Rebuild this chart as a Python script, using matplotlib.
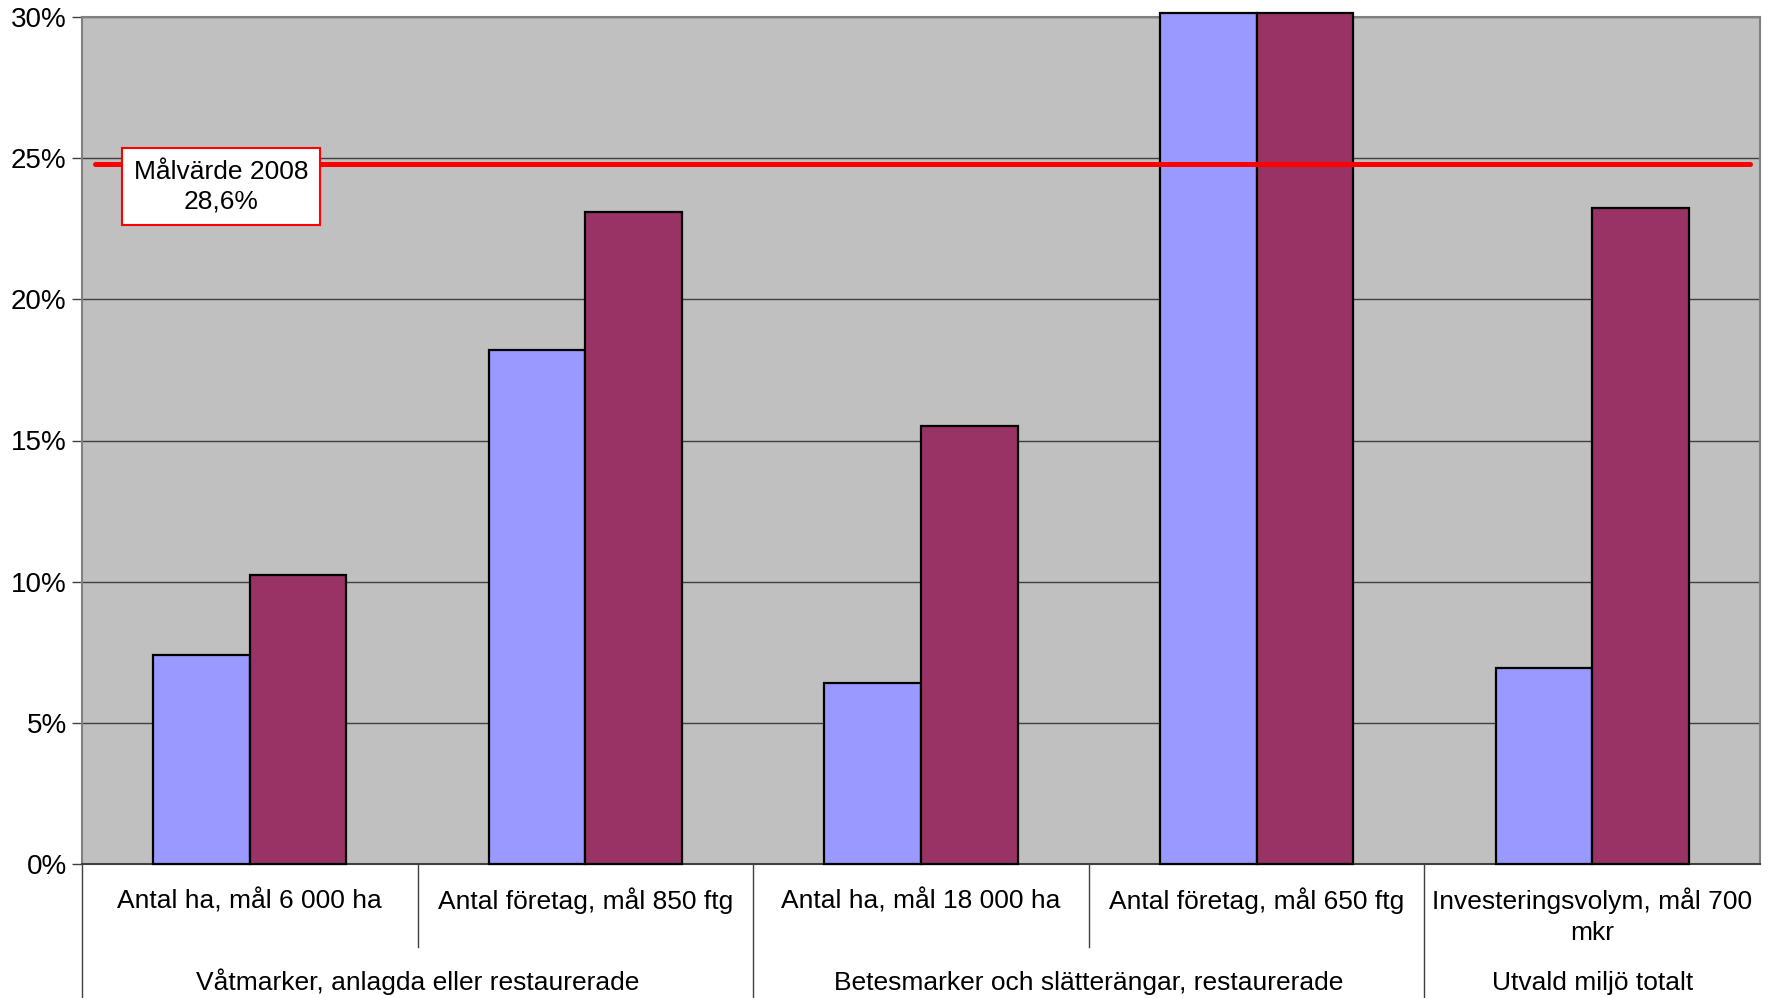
import matplotlib
matplotlib.use("Agg")
import matplotlib.pyplot as plt
import matplotlib.transforms as mtransforms

# Kategorier och grupper
categories = ["Antal ha, mål 6 000 ha", "Antal företag, mål 850 ftg",
              "Antal ha, mål 18 000 ha", "Antal företag, mål 650 ftg",
              "Investeringsvolym, mål 700\nmkr"]
groups = ["Våtmarker, anlagda eller restaurerade",
          "Betesmarker och slätterängar, restaurerade",
          "Utvald miljö totalt"]
group_spans = [(0, 1), (2, 3), (4, 4)]

# Värden i procent (serie 4 går över 30 %)
serie_a = [7.4, 18.2, 6.4, 30.15, 6.95]
serie_b = [10.25, 23.1, 15.5, 30.15, 23.25]

target_value = 24.8
target_label = "Målvärde 2008\n28,6%"

yticks = [0, 5, 10, 15, 20, 25, 30]

plt.rcParams['font.family'] = ['Liberation Sans', 'DejaVu Sans']
FS = 19

fig = plt.figure(figsize=(17.68, 9.98), dpi=100)
ax = fig.add_axes([82 / 1768, 1 - 864 / 998, 1678 / 1768, 847 / 998])
ax.set_facecolor("#C0C0C0")

x = list(range(len(categories)))
w = 0.288
ax.bar([i - w / 2 for i in x], serie_a, width=w, color="#9999FF",
       edgecolor="black", linewidth=1.6, zorder=3, clip_on=False)
ax.bar([i + w / 2 for i in x], serie_b, width=w, color="#993366",
       edgecolor="black", linewidth=1.6, zorder=3, clip_on=False)

ax.set_xlim(-0.5, len(categories) - 0.5)
ax.set_ylim(0, 30)
ax.set_yticks(yticks)
ax.set_yticklabels([f"{t}%" for t in yticks], fontsize=FS + 1)
ax.tick_params(axis="y", length=7, width=1, color="#404040", pad=4)
ax.set_xticks([])
ax.yaxis.grid(True, color="#404040", linewidth=1, zorder=1)
ax.set_axisbelow(True)

for s in ["top", "right", "left"]:
    ax.spines[s].set_color("#808080")
    ax.spines[s].set_linewidth(1.5)
ax.spines["bottom"].set_color("#404040")
ax.spines["bottom"].set_linewidth(1.5)

# Målvärdeslinje
ax.plot([-0.46, 4.47], [target_value, target_value], color="#FF0000",
        linewidth=3.6, solid_capstyle="round", zorder=4)
ax.text(-0.086, target_value - 0.8, target_label, ha="center", va="center",
        fontsize=FS, linespacing=1.28, zorder=5,
        bbox=dict(boxstyle="square,pad=0.45", facecolor="white",
                  edgecolor="#FF0000", linewidth=1.5))

# Kategorietiketter under axeln
trans = mtransforms.blended_transform_factory(ax.transData, fig.transFigure)
for i, lab in enumerate(categories):
    first, *rest = lab.split("\n")
    ax.text(i, 1 - 909 / 998, first, transform=trans, ha="center",
            va="baseline", fontsize=FS)
    for k, line in enumerate(rest, start=1):
        ax.text(i, 1 - (909 + 31 * k) / 998, line, transform=trans,
                ha="center", va="baseline", fontsize=FS)

for lab, (a, b) in zip(groups, group_spans):
    ax.text((a + b) / 2, 1 - 990 / 998, lab, transform=trans, ha="center",
            va="baseline", fontsize=FS)

# Avgränsningslinjer
y0 = 1 - 864 / 998
for xs in [-0.5, 1.5, 3.5]:
    ax.plot([xs, xs], [y0, 0], transform=trans, color="#404040",
            linewidth=1, clip_on=False)
for xs in [0.5, 2.5]:
    ax.plot([xs, xs], [y0, 1 - 947 / 998], transform=trans, color="#404040",
            linewidth=1, clip_on=False)

fig.savefig("out.png", dpi=100)
